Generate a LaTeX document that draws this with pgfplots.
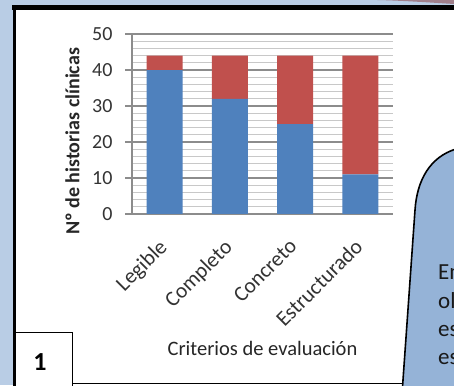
\documentclass[border=0pt]{standalone}
\usepackage{fontspec}
\setmainfont{Carlito}
\usepackage{pgfplots}
\pgfplotsset{compat=1.18}
\definecolor{bgblue}{HTML}{B9CDE5}
\definecolor{bubble}{HTML}{95B3D7}
\definecolor{barblue}{HTML}{4F81BD}
\definecolor{barred}{HTML}{C0504D}
\definecolor{majgrid}{HTML}{8C8C8C}
\definecolor{mingrid}{HTML}{C8C8C8}
\definecolor{mauve}{HTML}{A0808C}
\begin{document}
\begin{tikzpicture}[x=1pt,y=1pt]
\clip (0,0) rectangle (454,385);
\fill[bgblue] (0,0) rectangle (454,385);
\fill[mauve] (377,385) -- (454,385) -- (454,381) .. controls (430,382.5) and (400,384.5) .. (377,385) -- cycle;
% white panel
\fill[white] (14,0) rectangle (460,380);
\draw[line width=5pt] (12,377.5) -- (460,377.5);
\draw[line width=3pt] (14.5,-5) -- (14.5,380);
\draw[line width=1pt] (14,1.7) -- (410,1.7);
% axis
\begin{axis}[
  at={(132pt,171pt)}, anchor=south west,
  scale only axis, width=261pt, height=180pt,
  ybar stacked, bar width=36pt,
  xmin=-0.5, xmax=3.5, ymin=0, ymax=50,
  xtick={0,1,2,3},
  xticklabels={Legible,Completo,Concreto,Estructurado},
  ytick={0,10,20,30,40,50},
  minor ytick={2,4,6,8,12,14,16,18,22,24,26,28,32,34,36,38,42,44,46,48},
  ymajorgrids, yminorgrids,
  major grid style={majgrid, line width=1.2pt},
  minor grid style={mingrid, line width=0.9pt},
  axis line style={draw=none},
  ytick pos=left,
  tick align=outside,
  major tick length=7pt,
  minor tick length=0pt,
  ytick style={majgrid, line width=1.2pt},
  xtick style={draw=none},
  /pgf/number format/assume math mode=true,
  yticklabel style={font=\fontsize{20}{22}\selectfont, text=black!80, anchor=east, xshift=-9pt},
  xticklabel style={font=\fontsize{21.5}{24}\selectfont, text=black!80, rotate=45, anchor=north east, xshift=-13.5pt, yshift=-3.5pt},
  clip=false,
]
\draw[majgrid, line width=1.2pt] (rel axis cs:0,0) -- (rel axis cs:0,1);
\addplot[fill=barblue, draw=none] coordinates {(0,40) (1,32) (2,25) (3,11)};
\addplot[fill=barred, draw=none] coordinates {(0,4) (1,12) (2,19) (3,33)};
\end{axis}
\node[rotate=90, font=\fontsize{20}{24}\selectfont\bfseries, text=black!85] at (72.5,243.5) {Nº de historias clínicas};
\node[anchor=base, font=\fontsize{20.5}{24}\selectfont, text=black!85] at (262.5,30) {Criterios de evaluación};
% box 1
\filldraw[fill=white, draw=black, line width=1pt] (14,-2) rectangle (72,52.3);
\draw[line width=3pt] (14.5,-5) -- (14.5,53);
\node[font=\fontsize{26}{30}\selectfont\bfseries] at (40,23.3) {1};
% bubble
\fill[bubble] (402.5,-2) -- (415,175) .. controls (417,205) and (430,228) .. (456,236) -- (456,-2) -- cycle;
\draw[line width=1.6pt] (402.5,-2) -- (415,175) .. controls (417,205) and (430,228) .. (456,236);
\begin{scope}[every node/.style={anchor=base west, inner sep=0pt, font=\fontsize{23}{26}\selectfont, text=black!90}]
\node at (438,105) {En};
\node at (438,77) {ol};
\node at (438,49) {es};
\node at (438,21) {es};
\end{scope}
\end{tikzpicture}
\end{document}
